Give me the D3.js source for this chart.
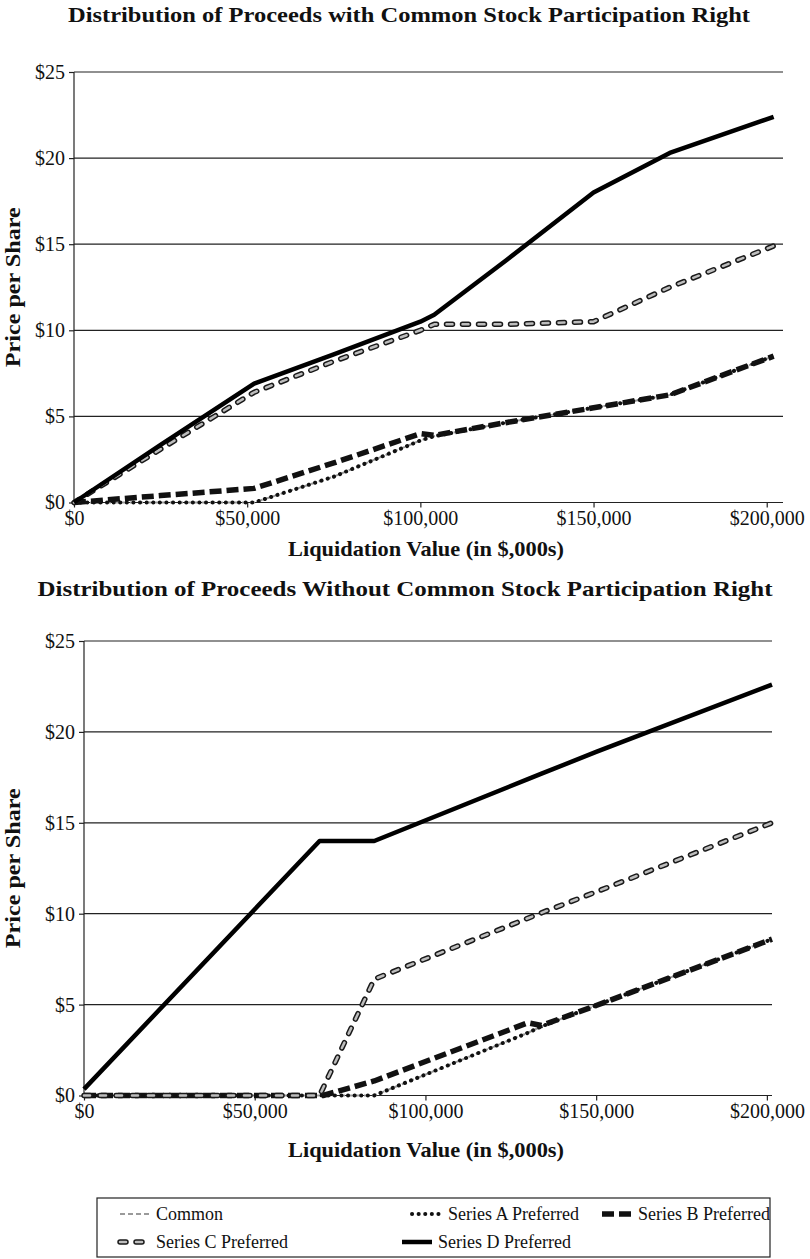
<!DOCTYPE html>
<html>
<head>
<meta charset="utf-8">
<script src="https://cdn.jsdelivr.net/npm/d3@7"></script>
<style>
  body { margin: 0; background: #fff; }
  text { font-family: "Liberation Serif", "DejaVu Serif", serif; fill: #111; }
</style>
</head>
<body>
<div id="chart"></div>
<script>
// ---- data (price per share, $) ----
var xTicks = [0, 50000, 100000, 150000, 200000];
var yTicks = [0, 5, 10, 15, 20, 25];

// chart 1: with common stock participation right
var x1 = [0, 25000, 52000, 75000, 100000, 104000, 125000, 150000, 172000, 202000];
var common1 = [0, 0, 0, 1.5, 3.6, 3.85, 4.65, 5.5, 6.25, 8.5];
var seriesA1 = [0, 0, 0, 1.5, 3.6, 3.85, 4.65, 5.5, 6.25, 8.5];
var seriesB1 = [0, 0.4, 0.82, 2.3, 4.0, 3.9, 4.65, 5.5, 6.25, 8.5];
var seriesC1 = [0, 3.1, 6.4, 8.2, 10.0, 10.35, 10.35, 10.5, 12.5, 14.9];
var seriesD1 = [0, 3.35, 6.9, 8.6, 10.5, 10.9, 14.1, 18.0, 20.3, 22.4];

// chart 2: without common stock participation right
var x2 = [0, 69000, 70000, 85000, 130000, 134000, 150000, 201500];
var common2 = [0, 0, 0, 0, 3.45, 3.8, 4.95, 8.6];
var seriesA2 = [0, 0, 0, 0, 3.45, 3.8, 4.95, 8.6];
var seriesB2 = [0, 0, 0, 0.8, 4.0, 3.85, 4.95, 8.6];
var seriesC2 = [0, 0, 0.4, 6.4, 9.75, 10.05, 11.2, 15.0];
var seriesD2 = [0.35, 14.0, 14.0, 14.0, 17.4, 17.7, 18.9, 22.6];

var seriesNames = ["Common", "Series A Preferred", "Series B Preferred", "Series C Preferred", "Series D Preferred"];

var W = 810, H = 1259;
var svg = d3.select("#chart").append("svg").attr("width", W).attr("height", H);

// line styles, one per series (a style may need more than one stroke)
var styles = {
  "Common": [{stroke: "#9a9a9a", width: 2, dash: "5,3", cap: "butt"}],
  "Series A Preferred": [{stroke: "#111", width: 4, dash: "0.1,6.5", cap: "round"}],
  "Series B Preferred": [{stroke: "#111", width: 5.5, dash: "12,5", cap: "butt"}],
  "Series C Preferred": [{stroke: "#1a1a1a", width: 5.5, dash: "6,10", cap: "round"},
                         {stroke: "#bdbdbd", width: 2.5, dash: "6,10", cap: "round"}],
  "Series D Preferred": [{stroke: "#000", width: 4.5, dash: null, cap: "butt"}]
};

function drawStroke(g, d, st) {
  var p = g.append("path").attr("d", d).attr("fill", "none")
    .attr("stroke", st.stroke).attr("stroke-width", st.width)
    .attr("stroke-linecap", st.cap).attr("stroke-linejoin", "round");
  if (st.dash) p.attr("stroke-dasharray", st.dash);
}

function drawChart(opt) {
  var x = d3.scaleLinear().domain([0, opt.xMax]).range([opt.left, opt.right]);
  var y = d3.scaleLinear().domain([0, 25]).range([opt.bottom, opt.top]);
  var g = svg.append("g");

  // title
  g.append("text").attr("x", opt.titleX).attr("y", opt.titleY)
    .attr("text-anchor", "middle").attr("font-weight", "bold")
    .attr("font-size", 21).attr("textLength", opt.titleLen).attr("lengthAdjust", "spacingAndGlyphs")
    .text(opt.title);

  // gridlines
  g.selectAll(".grid").data(yTicks.slice(1)).enter().append("line")
    .attr("x1", opt.left).attr("x2", opt.right)
    .attr("y1", function(d) { return y(d); }).attr("y2", function(d) { return y(d); })
    .attr("stroke", "#222").attr("stroke-width", 1.2);

  // axes
  var yAxis = d3.axisLeft(y).tickValues(yTicks).tickSize(5).tickPadding(4)
    .tickFormat(function(d) { return "$" + d; });
  var ya = g.append("g").attr("transform", "translate(" + opt.left + ",0)").call(yAxis);
  var xAxis = d3.axisBottom(x).tickValues(xTicks).tickSize(5).tickPadding(3)
    .tickFormat(function(d) { return "$" + d3.format(",")(d); });
  var xa = g.append("g").attr("transform", "translate(0," + opt.bottom + ")").call(xAxis);
  [ya, xa].forEach(function(a) {
    a.select(".domain").attr("stroke", "#222").attr("stroke-width", 1.2);
    a.selectAll(".tick line").attr("stroke", "#222").attr("stroke-width", 1.2);
    a.selectAll("text").attr("font-size", 20).attr("fill", "#111")
      .attr("font-family", "'Liberation Serif', serif");
  });
  xa.select(".domain").attr("d", "M" + opt.left + ",0H" + opt.right);
  ya.select(".domain").attr("d", "M0," + opt.bottom + "V" + opt.top);

  // axis titles
  g.append("text").attr("transform", "translate(" + opt.yTitleX + "," + ((opt.top + opt.bottom) / 2) + ") rotate(-90)")
    .attr("text-anchor", "middle").attr("font-weight", "bold").attr("font-size", 21)
    .attr("textLength", 160).attr("lengthAdjust", "spacingAndGlyphs")
    .text("Price per Share");
  g.append("text").attr("x", opt.xTitleX).attr("y", opt.xTitleY)
    .attr("text-anchor", "middle").attr("font-weight", "bold").attr("font-size", 21)
    .attr("textLength", 276).attr("lengthAdjust", "spacingAndGlyphs")
    .text("Liquidation Value (in $,000s)");

  // series, drawn back to front
  var line = d3.line().x(function(d) { return x(d[0]); }).y(function(d) { return y(d[1]); });
  opt.series.forEach(function(s, i) {
    var pts = opt.xs.map(function(v, j) { return [v, s[j]]; });
    var d = line(pts);
    styles[seriesNames[i]].forEach(function(st) { drawStroke(g, d, st); });
  });
}

drawChart({
  title: "Distribution of Proceeds with Common Stock Participation Right",
  titleX: 409, titleY: 22, titleLen: 682,
  left: 74, right: 783, top: 72, bottom: 502.5, xMax: 204700,
  xs: x1, series: [common1, seriesA1, seriesB1, seriesC1, seriesD1],
  yTitleX: 20, xTitleX: 426, xTitleY: 556
});

drawChart({
  title: "Distribution of Proceeds Without Common Stock Participation Right",
  titleX: 405, titleY: 596, titleLen: 735,
  left: 84, right: 772, top: 641, bottom: 1095.5, xMax: 201500,
  xs: x2, series: [common2, seriesA2, seriesB2, seriesC2, seriesD2],
  yTitleX: 20, xTitleX: 426, xTitleY: 1157
});

// legend
var lg = svg.append("g");
lg.append("rect").attr("x", 97).attr("y", 1198).attr("width", 673).attr("height", 59)
  .attr("fill", "none").attr("stroke", "#222").attr("stroke-width", 1.2);
var legendPos = [[120, 1214], [412, 1214], [602, 1214], [120, 1242], [402, 1242]];
seriesNames.forEach(function(name, i) {
  var p = legendPos[i];
  var d = "M" + p[0] + "," + p[1] + "H" + (p[0] + 30);
  styles[name].forEach(function(st) { drawStroke(lg, d, st); });
  lg.append("text").attr("x", p[0] + 36).attr("y", p[1] + 6).attr("font-size", 18).text(name);
});
</script>
</body>
</html>
